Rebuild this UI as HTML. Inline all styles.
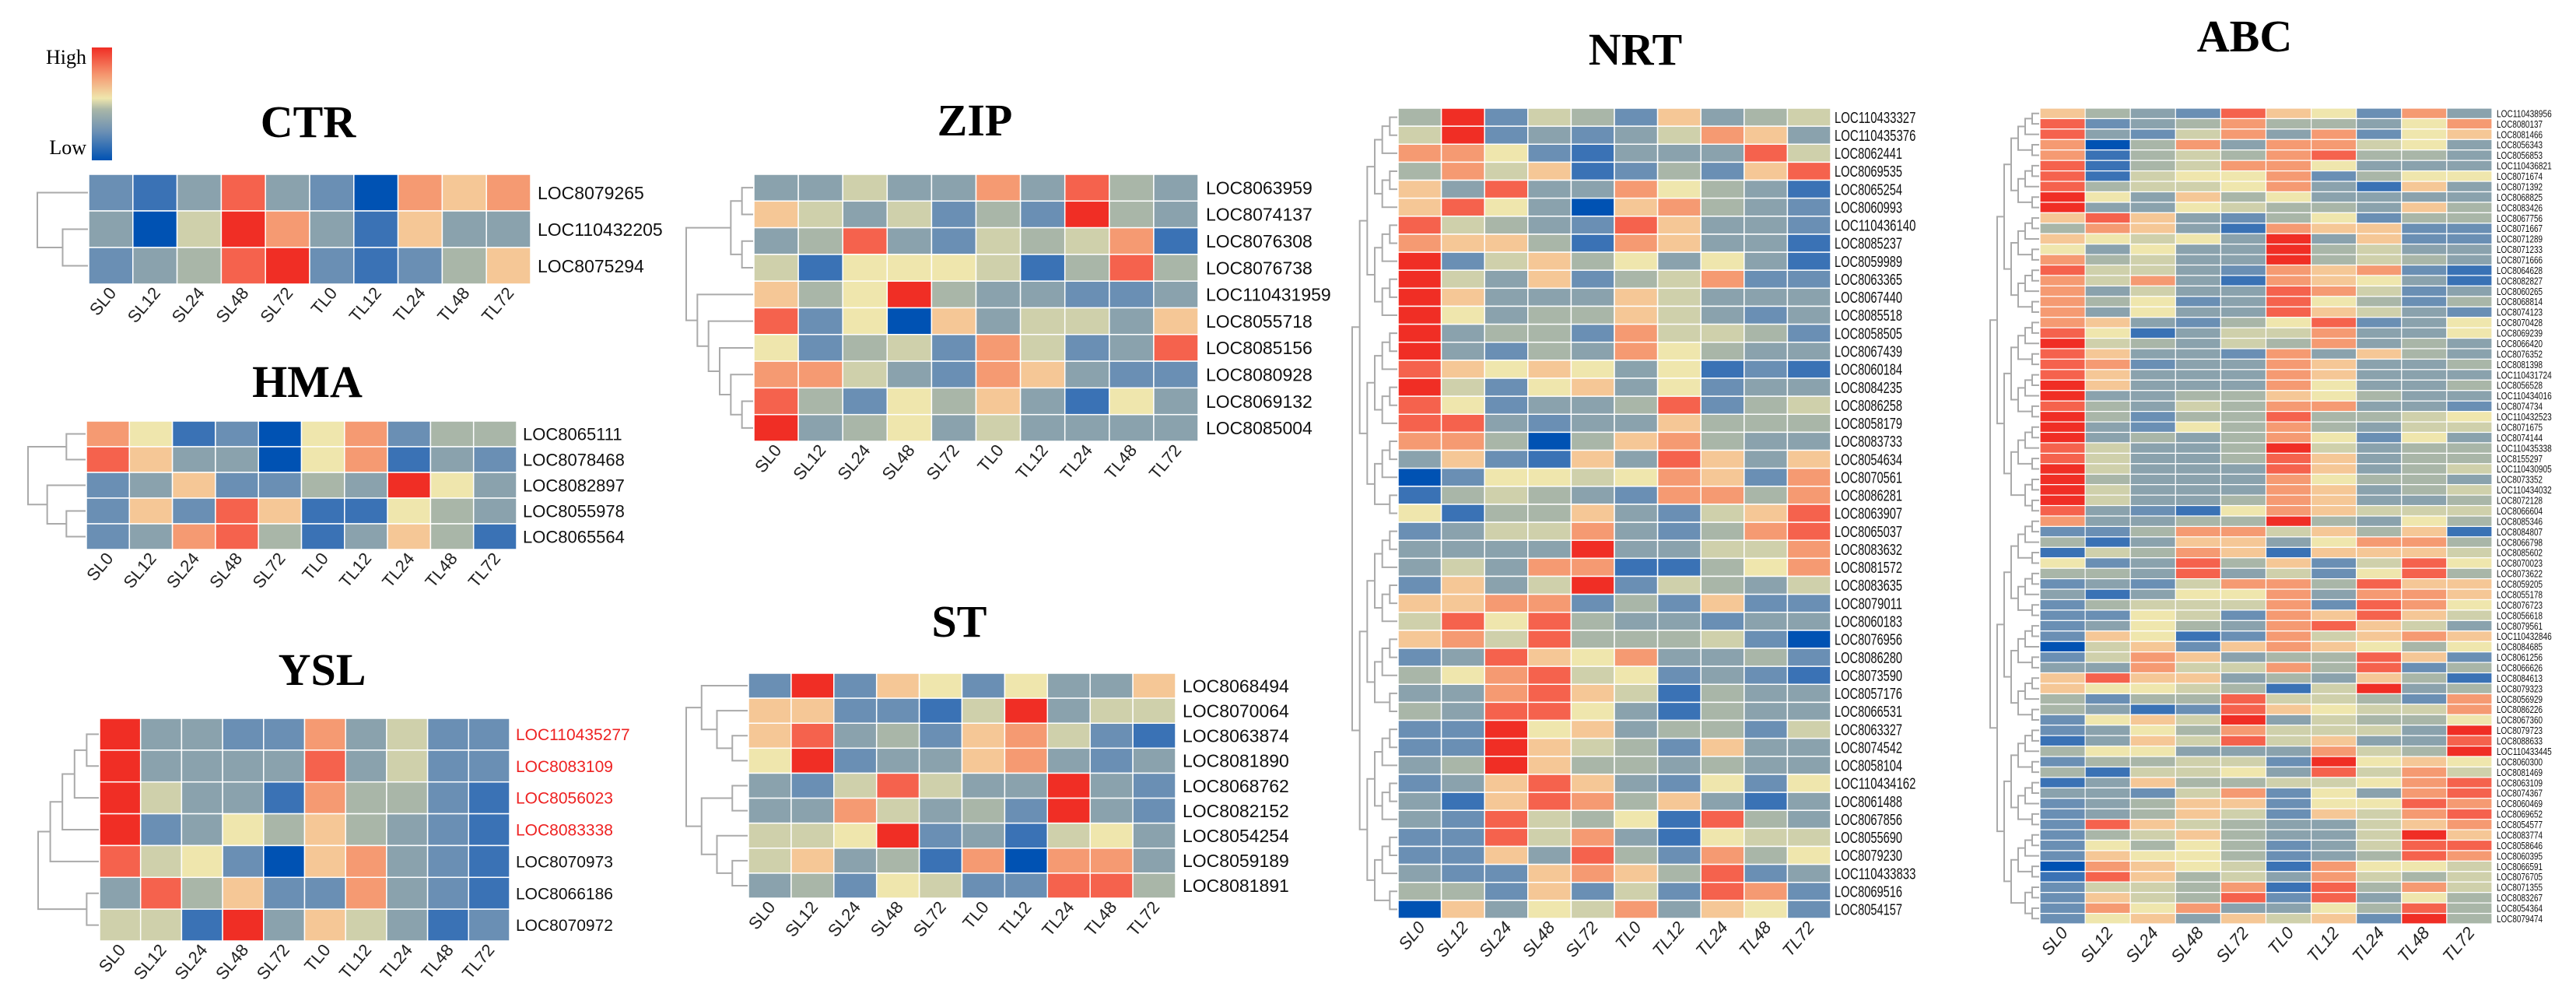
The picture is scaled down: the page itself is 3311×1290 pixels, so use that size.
<!DOCTYPE html>
<html><head><meta charset="utf-8"><title>Heatmaps</title>
<style>
html,body{margin:0;padding:0;background:#fff;}
svg{display:block;}
</style></head>
<body>
<svg id="fig" width="3311" height="1290" viewBox="0 0 3311 1290" xmlns="http://www.w3.org/2000/svg">
  <defs>
    <linearGradient id="cbar" x1="0" y1="1" x2="0" y2="0">
      <stop offset="0" stop-color="#0052b3"/>
      <stop offset="0.25" stop-color="#6a8fb4"/>
      <stop offset="0.45" stop-color="#a9b6a8"/>
      <stop offset="0.55" stop-color="#efe6ad"/>
      <stop offset="0.75" stop-color="#f59a72"/>
      <stop offset="1" stop-color="#f02e25"/>
    </linearGradient>
  </defs>
  <g>
    <rect x="118" y="61" width="26" height="145" fill="url(#cbar)"/>
    <text x="111" y="82" text-anchor="end" font-family="Liberation Serif, serif" font-size="26">High</text>
    <text x="111" y="198" text-anchor="end" font-family="Liberation Serif, serif" font-size="26">Low</text>
  </g>
</svg>
<script>
const cols = ["SL0","SL12","SL24","SL48","SL72","TL0","TL12","TL24","TL48","TL72"];

const ctrGenes = ["LOC8079265","LOC110432205","LOC8075294"];
const ctrValues = [
[2,1,3,9,3,2,0,8,7,8],
[3,0,5,10,8,3,1,7,3,3],
[2,3,4,9,10,2,1,2,4,7]];

const hmaGenes = ["LOC8065111","LOC8078468","LOC8082897","LOC8055978","LOC8065564"];
const hmaValues = [
[8,6,1,2,0,6,8,2,4,4],
[9,7,3,3,0,6,8,1,3,2],
[2,3,7,2,2,4,3,10,6,3],
[2,7,2,9,7,1,1,6,4,3],
[2,3,8,9,4,1,3,7,4,1]];

const yslGenes = ["LOC110435277","LOC8083109","LOC8056023","LOC8083338","LOC8070973","LOC8066186","LOC8070972"];
const yslHighlighted = [true,true,true,true,false,false,false];
const yslValues = [
[10,3,3,2,2,8,3,5,2,2],
[10,3,3,3,3,9,3,5,2,2],
[10,5,3,3,1,8,4,4,2,1],
[10,2,3,6,4,7,4,3,2,1],
[9,5,6,2,0,7,8,3,2,1],
[3,9,4,7,2,2,8,3,2,1],
[5,5,1,10,3,7,5,3,1,2]];

const zipGenes = ["LOC8063959","LOC8074137","LOC8076308","LOC8076738","LOC110431959","LOC8055718","LOC8085156","LOC8080928","LOC8069132","LOC8085004"];
const zipValues = [
[3,3,5,3,3,8,3,9,4,3],
[7,5,3,5,2,4,2,10,4,3],
[3,4,9,3,2,5,4,5,8,1],
[5,1,6,6,6,5,1,4,9,4],
[7,4,6,10,4,3,3,2,2,3],
[9,2,6,0,7,3,5,5,3,7],
[6,2,4,5,2,8,5,2,3,9],
[8,8,5,3,2,8,7,3,2,2],
[9,4,2,6,4,7,3,1,6,3],
[10,3,4,6,3,5,3,3,3,3]];

const stGenes = ["LOC8068494","LOC8070064","LOC8063874","LOC8081890","LOC8068762","LOC8082152","LOC8054254","LOC8059189","LOC8081891"];
const stValues = [
[2,10,2,7,6,2,6,3,3,7],
[7,7,2,2,1,5,10,3,5,5],
[7,9,3,4,2,7,8,5,2,1],
[6,10,2,3,3,7,8,3,2,3],
[3,2,5,9,5,3,3,10,3,2],
[3,3,8,5,3,4,2,10,3,2],
[5,5,6,10,2,3,1,5,6,3],
[5,7,3,4,1,8,0,8,8,3],
[3,4,2,6,5,2,2,9,9,4]];

const nrtGenes = ["LOC110433327","LOC110435376","LOC8062441","LOC8069535","LOC8065254","LOC8060993","LOC110436140","LOC8085237","LOC8059989","LOC8063365","LOC8067440","LOC8085518","LOC8058505","LOC8067439","LOC8060184","LOC8084235","LOC8086258","LOC8058179","LOC8083733","LOC8054634","LOC8070561","LOC8086281","LOC8063907","LOC8065037","LOC8083632","LOC8081572","LOC8083635","LOC8079011","LOC8060183","LOC8076956","LOC8086280","LOC8073590","LOC8057176","LOC8066531","LOC8063327","LOC8074542","LOC8058104","LOC110434162","LOC8061488","LOC8067856","LOC8055690","LOC8079230","LOC110433833","LOC8069516","LOC8054157"];
const nrtValues = [
[4,10,2,5,4,2,7,3,4,5],[5,10,2,3,2,3,5,8,7,3],[8,8,6,2,1,3,3,3,9,5],[4,8,5,7,1,2,4,2,7,9],
[7,3,9,3,3,8,6,4,3,1],[7,9,6,3,0,7,8,4,3,2],[9,5,4,3,2,9,7,3,3,2],[8,7,7,4,1,8,7,3,3,1],
[10,2,5,7,4,6,3,6,3,1],[10,5,3,7,2,4,5,8,2,2],[10,7,3,3,3,7,5,3,3,3],[10,6,3,4,4,7,5,3,2,3],
[10,3,4,4,2,8,5,5,4,2],[10,3,2,4,3,8,6,4,3,3],[9,7,6,7,6,3,6,1,2,1],[10,5,2,6,7,3,6,2,3,3],
[9,6,2,3,3,4,9,2,4,5],[9,9,3,2,3,3,7,4,4,4],[8,8,4,0,4,7,8,4,3,3],[3,7,2,1,7,3,9,7,3,7],
[0,2,6,6,5,6,8,7,2,8],[1,4,5,4,3,2,8,8,4,8],[6,1,4,4,7,3,2,5,7,9],[2,3,5,5,8,3,2,4,8,9],
[3,3,3,3,10,3,3,5,5,8],[3,5,3,8,8,1,1,4,6,8],[2,7,3,5,10,2,5,4,3,5],[7,7,8,8,2,4,2,7,2,2],
[5,9,6,9,4,3,3,2,3,3],[7,8,5,9,4,4,4,5,2,0],[2,3,9,7,6,8,3,3,4,2],[4,6,8,9,5,6,2,3,2,1],
[3,3,8,9,7,5,1,4,3,3],[4,3,9,9,6,3,1,4,3,3],[2,2,10,6,7,3,4,4,2,5],[2,2,10,7,5,4,2,7,3,3],
[3,4,10,7,4,4,3,4,3,3],[2,3,7,9,7,3,2,6,2,6],[3,1,7,9,8,4,7,3,1,3],[3,2,9,5,4,6,1,9,4,3],
[2,2,9,5,8,3,1,6,5,5],[2,2,7,3,9,4,2,8,4,6],[3,2,2,7,8,7,4,9,2,3],[4,4,2,7,2,5,2,9,8,2],
[0,7,3,6,5,8,3,7,6,2]];

const abcGenes = ["LOC110438956","LOC8080137","LOC8081466","LOC8056343","LOC8056853","LOC110436821","LOC8071674","LOC8071392","LOC8068825","LOC8083426","LOC8067756","LOC8071667","LOC8071289","LOC8071233","LOC8071666","LOC8064628","LOC8082827","LOC8060265","LOC8068814","LOC8074123","LOC8070428","LOC8069239","LOC8066420","LOC8076352","LOC8081398","LOC110431724","LOC8056528","LOC110434016","LOC8074734","LOC110432523","LOC8071675","LOC8074144","LOC110435338","LOC8155297","LOC110430905","LOC8073352","LOC110434032","LOC8072128","LOC8066604","LOC8085346","LOC8084807","LOC8066798","LOC8085602","LOC8070023","LOC8073622","LOC8059205","LOC8055178","LOC8076723","LOC8056618","LOC8079561","LOC110432846","LOC8084685","LOC8061256","LOC8066626","LOC8084613","LOC8079323","LOC8056929","LOC8086226","LOC8067360","LOC8079723","LOC8088633","LOC110433445","LOC8060300","LOC8081469","LOC8063109","LOC8074367","LOC8060469","LOC8069652","LOC8054577","LOC8083774","LOC8058646","LOC8060395","LOC8066591","LOC8076705","LOC8071355","LOC8083267","LOC8054364","LOC8079474"];
const abcValues = [
[7,4,3,2,9,7,6,2,8,3],[9,2,3,4,8,4,4,3,6,8],[9,3,2,5,8,3,8,2,6,7],[8,0,4,8,3,8,8,5,6,3],
[8,1,4,5,4,8,9,4,4,3],[9,1,4,5,8,8,6,3,3,3],[9,1,5,6,6,8,2,4,6,6],[9,4,5,5,6,8,3,1,7,3],
[10,6,3,7,4,6,3,3,3,3],[10,3,3,6,5,4,4,3,7,4],[7,9,7,3,2,4,6,2,4,4],[4,8,7,3,1,8,7,7,2,2],
[7,6,5,6,3,10,3,7,2,2],[6,3,6,3,3,10,4,5,3,3],[8,4,5,3,3,10,4,5,4,3],[9,5,5,3,2,8,7,8,2,1],
[8,5,8,3,1,8,7,6,3,1],[8,3,5,3,3,9,8,5,2,3],[8,4,6,2,3,9,6,4,2,4],[8,3,6,3,3,9,7,5,3,2],
[8,7,3,2,4,6,9,2,3,6],[9,6,1,3,5,5,8,3,3,6],[10,5,4,3,5,4,8,3,4,3],[9,7,3,3,2,8,3,7,4,3],
[9,8,2,3,3,8,7,3,3,4],[9,7,3,3,3,8,7,3,3,3],[10,7,3,3,3,8,6,3,3,4],[10,3,3,4,4,7,6,4,3,3],
[9,4,3,5,4,8,8,3,3,2],[10,4,2,4,4,9,4,4,5,6],[10,3,2,6,4,8,4,3,5,5],[10,3,4,3,4,8,6,2,6,3],
[9,5,3,3,4,10,5,3,4,4],[9,5,3,3,4,9,7,3,4,4],[10,5,3,3,3,9,7,3,4,5],[10,4,3,3,3,8,6,4,4,3],
[10,5,3,3,3,8,7,3,4,5],[10,5,3,3,4,8,7,3,3,4],[9,3,2,1,6,8,7,5,5,5],[8,3,3,4,4,10,4,3,6,4],
[2,2,4,8,8,5,7,4,7,1],[4,1,3,7,7,3,6,8,8,4],[1,5,4,8,7,1,7,7,7,5],[6,2,3,9,4,7,2,5,9,6],
[4,4,3,9,3,5,2,6,9,4],[2,3,2,5,8,8,4,9,7,7],[3,1,3,6,6,8,3,8,8,7],[2,4,5,5,5,8,2,9,8,6],
[2,2,6,5,2,8,7,9,7,5],[2,3,6,4,3,8,9,7,5,3],[2,7,6,1,2,8,5,7,8,7],[0,5,7,2,7,8,7,6,4,6],
[2,5,8,7,3,4,4,9,7,2],[3,3,8,5,5,8,4,9,2,4],[7,9,7,7,3,4,3,7,4,1],[7,6,6,5,4,1,5,10,3,4],
[4,2,4,4,9,5,5,4,2,8],[4,3,1,2,9,7,6,5,5,8],[2,6,7,5,10,3,5,4,4,6],[2,3,6,4,8,5,5,5,3,10],
[1,3,7,5,9,5,7,3,3,9],[4,6,6,3,3,3,8,5,4,10],[2,4,4,5,5,2,10,6,7,6],[4,1,5,5,6,3,9,5,8,5],
[1,3,7,4,4,5,5,6,8,9],[3,3,2,5,8,2,6,3,8,9],[2,3,4,7,7,2,6,6,9,8],[2,3,4,7,5,2,7,5,8,9],
[2,9,7,5,4,3,3,5,7,8],[2,4,5,7,4,3,3,5,10,7],[2,6,4,6,4,2,3,5,9,9],[2,7,6,6,4,2,3,4,9,8],
[0,8,7,6,5,1,8,6,6,5],[1,9,7,4,5,3,8,5,4,5],[2,5,5,4,8,1,9,4,8,5],[2,7,5,4,9,2,9,3,6,4],
[2,8,6,8,3,3,6,4,9,4],[2,6,7,3,7,5,7,2,10,4]];

const palette = ["#0052b3","#3a72b5","#6a8fb4","#8aa2ad","#a9b6a8","#cfd0ab","#efe6ad","#f5c796","#f59a72","#f5624d","#f02e25"];
function colorOf(v){ const i=Math.max(0,Math.min(10,Math.round(v))); return palette[i]; }

const NS="http://www.w3.org/2000/svg";
const svg=document.getElementById('fig');
function mk(tag,attrs,parent){ const e=document.createElementNS(NS,tag); for(const k in attrs) e.setAttribute(k,attrs[k]); (parent||svg).appendChild(e); return e; }

function autoTree(lo,hi){ if(hi-lo===1) return lo; if(hi-lo===2) return [lo,lo+1]; const m=lo+Math.ceil((hi-lo)/2); return [autoTree(lo,m),autoTree(m,hi)]; }

function drawTree(g,tree,x0,x1,yTop,rh){
  function h(t){ return Array.isArray(t)?1+Math.max(h(t[0]),h(t[1])):0; }
  const H=h(tree);
  const sx=(x1-x0)/H;
  function rec(t){
    if(!Array.isArray(t)) return {y:yTop+(t+0.5)*rh,x:x1};
    const a=rec(t[0]), b=rec(t[1]);
    const x=x1-h(t)*sx;
    const p=mk('path',{d:`M${a.x},${a.y}H${x}V${b.y}H${b.x}`,fill:'none',stroke:'#aaaaaa','stroke-width':2},g);
    
    
    return {y:(a.y+b.y)/2,x:x};
  }
  rec(tree);
}

function panel(o){
  const g=mk('g',{});
  
  
  const n=o.values.length, cw=o.w/cols.length, rh=o.h/n;
  const t=mk('text',{x:o.tx,y:o.ty,'text-anchor':'middle','font-family':'Liberation Serif, serif','font-weight':'bold','font-size':o.tfs||58},g);
  t.textContent=o.title;
  
  
  o.values.forEach((row,r)=>{
    row.forEach((v,c)=>{
      const cell=mk('rect',{x:o.x+c*cw,y:o.y+r*rh,width:cw,height:rh,fill:colorOf(v),stroke:'#ffffff','stroke-width':o.sw||1.5},g);
      
      
    });
    const lbl=mk('text',{x:o.lx,y:o.y+(r+0.5)*rh+o.lfs*0.36,'font-family':'Liberation Sans, sans-serif','font-size':o.lfs,fill:(o.red&&o.red[r])?'#ee2222':'#111'},g);
    if(o.cpc){ lbl.setAttribute('textLength',o.genes[r].length*o.cpc); lbl.setAttribute('lengthAdjust','spacingAndGlyphs'); }
    lbl.textContent=o.genes[r];
    
    
  });
  cols.forEach((c,i)=>{
    const cx=o.x+(i+0.5)*cw+8, cy=o.y+o.h+12;
    const ct=mk('text',{x:cx,y:cy,'text-anchor':'end','font-family':'Liberation Sans, sans-serif','font-size':o.cfs||22,'font-style':o.italic?'italic':'normal',fill:'#222',transform:`rotate(-50 ${cx} ${cy})`},g);
    ct.textContent=c;
    
    
  });
  drawTree(g,o.tree||autoTree(0,n),o.dx,o.x-1,o.y,rh);
}

panel({name:'ctr',title:'CTR',tx:396,ty:176,x:114,y:224,w:568,h:141,genes:ctrGenes,values:ctrValues,lx:691,lfs:23,dx:48,tree:[0,[1,2]]});
panel({name:'hma',title:'HMA',tx:395,ty:510,x:111,y:541,w:553,h:165,genes:hmaGenes,values:hmaValues,lx:672,lfs:22,dx:36,tree:[[0,1],[2,[3,4]]]});
panel({name:'ysl',title:'YSL',tx:414,ty:880,x:128,y:923,w:527,h:286,genes:yslGenes,values:yslValues,red:yslHighlighted,lx:663,lfs:21,dx:49,tree:[[[[[0,1],2],3],4],[5,6]]});
panel({name:'zip',title:'ZIP',tx:1253,ty:174,x:969,y:224,w:571,h:343,genes:zipGenes,values:zipValues,lx:1550,lfs:23,dx:882,tree:[[[0,1],[2,3]],[4,[5,[6,[7,[8,9]]]]]]});
panel({name:'st',title:'ST',tx:1233,ty:818,x:962,y:865,w:549,h:289,genes:stGenes,values:stValues,lx:1520,lfs:23,dx:882,tree:[[0,[1,[2,3]]],[[4,5],[6,[7,8]]]]});
panel({name:'nrt',title:'NRT',tx:2102,ty:83,x:1797,y:139,w:556,h:1041,genes:nrtGenes,values:nrtValues,lx:2358,lfs:20,cpc:8.7,dx:1738,italic:true,cfs:22});
panel({name:'abc',title:'ABC',tx:2885,ty:66,x:2622,y:139,w:581,h:1048,genes:abcGenes,values:abcValues,lx:3209,lfs:13,cpc:5.9,dx:2558,italic:true,cfs:22,sw:1.2});
</script>
</body></html>
